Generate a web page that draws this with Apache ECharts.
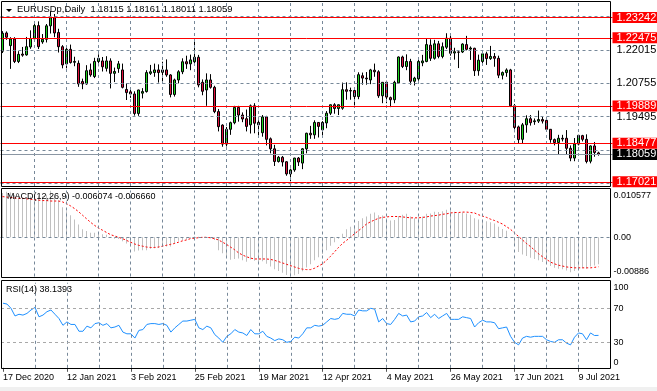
<!DOCTYPE html>
<html><head><meta charset="utf-8">
<script src="https://cdn.jsdelivr.net/npm/echarts@6/dist/echarts.min.js"></script>
<style>html,body{margin:0;padding:0;background:#fff}#c{width:657px;height:391px}</style>
</head><body><div id="c"></div><script>
// ---------- DATA ----------
const symbolTitle = 'EURUSDp,Daily  1.18115 1.18161 1.18011 1.18059';
const macdTitle = 'MACD(12,26,9) -0.006074 -0.006660';
const rsiTitle = 'RSI(14) 38.1393';
const MONTHS = ['Jan','Feb','Mar','Apr','May','Jun','Jul','Aug','Sep','Oct','Nov','Dec'];
const holidays = ['2020-12-25','2021-01-01'];
const categories = [];
(function(){ let d = new Date(Date.UTC(2020,11,17));
  while (categories.length < 150) { const wd = d.getUTCDay(); const iso = d.toISOString().slice(0,10);
    if (wd !== 0 && wd !== 6 && holidays.indexOf(iso) < 0) categories.push(d.getUTCDate()+' '+MONTHS[d.getUTCMonth()]+' '+d.getUTCFullYear());
    d.setUTCDate(d.getUTCDate()+1); } })();
const emptySlots = ['', '', ''];

const open = [1.2197,1.2266,1.2218,1.2243,1.2158,1.2186,1.2183,1.2213,1.2244,1.2294,1.2232,1.2242,1.2293,1.2324,1.2268,1.2214,1.2149,1.2204,1.2155,1.2151,
1.2082,1.2073,1.2126,1.2101,1.2158,1.2160,1.2132,1.2160,1.2113,1.2131,1.2126,1.2052,1.2043,1.2035,1.1961,1.2038,1.2044,1.2113,1.2116,1.2126,
1.2117,1.2126,1.2107,1.2033,1.2088,1.2119,1.2157,1.2149,1.2157,1.2174,1.2079,1.2050,1.2088,1.2060,1.1968,1.1917,1.1845,1.1901,1.1926,1.1984,
1.1955,1.1941,1.1918,1.1990,1.1927,1.1888,1.1948,1.1865,1.1827,1.1779,1.1795,1.1778,1.1732,1.1747,1.1792,1.1773,1.1827,1.1886,1.1880,1.1927,
1.1899,1.1925,1.1962,1.1994,1.1980,1.1981,1.2051,1.2046,1.2048,1.2025,1.2104,1.2095,1.2088,1.2125,1.2119,1.2028,1.2079,1.2021,1.2013,1.2077,
1.2175,1.2139,1.2158,1.2083,1.2092,1.2153,1.2158,1.2220,1.2170,1.2225,1.2177,1.2212,1.2246,1.2190,1.2194,1.2194,1.2222,1.2205,1.2208,1.2123,
1.2158,1.2187,1.2169,1.2177,1.2170,1.2106,1.2116,1.2126,1.1990,1.1910,1.1863,1.1918,1.1941,1.1930,1.1932,1.1938,1.1935,1.1901,1.1862,1.1851,
1.1867,1.1867,1.1829,1.1792,1.1845,1.1877,1.1863,1.1780,1.1838,1.18115];
const high = [1.2273,1.2272,1.2250,1.2250,1.2197,1.2213,1.2251,1.2276,1.2310,1.2310,1.2262,1.2300,1.2349,1.2338,1.2282,1.2220,1.2209,1.2222,1.2176,1.2162,
1.2093,1.2144,1.2150,1.2172,1.2185,1.2175,1.2178,1.2170,1.2135,1.2160,1.2150,1.2075,1.2060,1.2045,1.2051,1.2057,1.2125,1.2145,1.2150,1.2147,
1.2157,1.2166,1.2110,1.2093,1.2125,1.2170,1.2180,1.2184,1.2243,1.2183,1.2090,1.2113,1.2110,1.2066,1.1978,1.1920,1.1910,1.1930,1.1990,1.1990,
1.1965,1.1976,1.1995,1.2000,1.1935,1.1955,1.1952,1.1870,1.1842,1.1800,1.1800,1.1780,1.1752,1.1793,1.1796,1.1830,1.1888,1.1914,1.1935,1.1928,
1.1932,1.1970,1.1995,1.2000,1.1995,1.2078,1.2079,1.2059,1.2055,1.2117,1.2116,1.2118,1.2130,1.2150,1.2125,1.2080,1.2085,1.2025,1.2085,1.2177,
1.2180,1.2185,1.2168,1.2100,1.2165,1.2183,1.2243,1.2242,1.2240,1.2236,1.2230,1.2265,1.2265,1.2210,1.2197,1.2227,1.2255,1.2215,1.2210,1.2184,
1.2200,1.2195,1.2217,1.2190,1.2180,1.2120,1.2132,1.2130,1.1997,1.1915,1.1925,1.1954,1.1955,1.1942,1.1972,1.1950,1.1937,1.1902,1.1866,1.1880,
1.1880,1.1898,1.1840,1.1868,1.1880,1.1880,1.1882,1.1840,1.1853,1.18161];
const low = [1.2190,1.2240,1.2130,1.2152,1.2152,1.2176,1.2180,1.2206,1.2240,1.2205,1.2225,1.2230,1.2264,1.2250,1.2192,1.2132,1.2132,1.2150,1.2140,1.2062,
1.2053,1.2070,1.2100,1.2095,1.2140,1.2120,1.2120,1.2056,1.2080,1.2115,1.2056,1.2012,1.2020,1.1953,1.1952,1.2018,1.2040,1.2107,1.2100,1.2078,
1.2082,1.2100,1.2022,1.2025,1.2075,1.2110,1.2130,1.2125,1.2150,1.2060,1.2030,1.1990,1.2055,1.1962,1.1893,1.1835,1.1836,1.1880,1.1920,1.1930,
1.1928,1.1893,1.1885,1.1886,1.1875,1.1873,1.1840,1.1810,1.1762,1.1775,1.1760,1.1725,1.1704,1.1740,1.1762,1.1750,1.1810,1.1865,1.1865,1.1870,
1.1872,1.1905,1.1955,1.1960,1.1955,1.1975,1.2013,1.2013,1.1990,1.2015,1.2070,1.2070,1.2072,1.2100,1.2020,1.2000,1.2000,1.1985,1.2000,1.2075,
1.2133,1.2125,1.2070,1.2067,1.2085,1.2140,1.2155,1.2160,1.2165,1.2170,1.2170,1.2205,1.2180,1.2165,1.2133,1.2190,1.2200,1.2164,1.2103,1.2104,
1.2150,1.2145,1.2164,1.2138,1.2095,1.2090,1.2100,1.1985,1.1890,1.1848,1.1848,1.1888,1.1915,1.1918,1.1925,1.1923,1.1895,1.1850,1.1840,1.1805,
1.1855,1.1805,1.1780,1.1780,1.1840,1.1855,1.1772,1.1772,1.1797,1.18011];
const close = [1.2265,1.2250,1.2243,1.2158,1.2185,1.2182,1.2214,1.2245,1.2294,1.2214,1.2242,1.2293,1.2324,1.2266,1.2214,1.2145,1.2204,1.2154,1.2158,1.2073,
1.2073,1.2123,1.2107,1.2158,1.2170,1.2138,1.2160,1.2113,1.2120,1.2149,1.2060,1.2040,1.2035,1.1961,1.2050,1.2044,1.2116,1.2119,1.2126,1.2116,
1.2126,1.2107,1.2033,1.2088,1.2119,1.2157,1.2149,1.2164,1.2174,1.2069,1.2045,1.2088,1.2060,1.1968,1.1911,1.1845,1.1901,1.1926,1.1984,1.1955,
1.1940,1.1912,1.1990,1.1924,1.1918,1.1948,1.1863,1.1827,1.1779,1.1795,1.1777,1.1732,1.1747,1.1792,1.1777,1.1827,1.1886,1.1880,1.1927,1.1912,
1.1927,1.1962,1.1994,1.1980,1.1994,1.2051,1.2045,1.2048,1.2025,1.2108,1.2095,1.2092,1.2126,1.2119,1.2028,1.2079,1.2023,1.2013,1.2079,1.2175,
1.2139,1.2158,1.2083,1.2095,1.2158,1.2160,1.2222,1.2170,1.2225,1.2177,1.2214,1.2246,1.2189,1.2195,1.2193,1.2224,1.2204,1.2209,1.2123,1.2163,
1.2187,1.2169,1.2177,1.2170,1.2106,1.2116,1.2126,1.1990,1.1908,1.1862,1.1918,1.1941,1.1926,1.1933,1.1938,1.1932,1.1901,1.1862,1.1851,1.1867,
1.1864,1.1829,1.1792,1.1845,1.1878,1.1863,1.1779,1.1838,1.1813,1.18059];

const macdMain = [0.0100,0.0103,0.0101,0.0095,0.0092,0.0090,0.0090,0.0092,0.0098,0.0093,0.0092,0.0096,0.0105,0.0093,0.0083,0.0068,0.0059,0.0050,0.0040,0.0029,
0.0018,0.0014,0.0010,0.0010,0.0010,0.0007,0.0006,0.0000,-0.0003,-0.0004,
-0.0009,-0.0014,-0.0020,-0.0032,-0.0030,-0.0029,-0.0029,-0.0026,-0.0025,-0.0024,
-0.0022,-0.0021,-0.0021,-0.0014,-0.0008,-0.0006,-0.0005,-0.0002,0.0002,0.0001,
-0.0001,0.0000,-0.0002,-0.0006,-0.0029,-0.0036,-0.0042,-0.0051,-0.0049,-0.0048,
-0.0052,-0.0055,-0.0050,-0.0053,-0.0056,-0.0054,-0.0060,-0.0066,-0.0072,-0.0076,
-0.0080,-0.0085,-0.00886,-0.0086,-0.0083,-0.0077,-0.0068,-0.0061,-0.0052,-0.0045,
-0.0038,-0.0029,-0.0019,-0.0011,-0.0003,0.0008,0.0018,0.0024,0.0027,0.0037,
0.0043,0.0047,0.0053,0.0056,0.0050,0.0049,0.0043,0.0038,0.0039,0.0048,
0.0051,0.0053,0.0047,0.0043,0.0045,0.0047,0.0053,0.0054,0.0058,0.0057,
0.0059,0.0062,0.0060,0.0058,0.0055,0.0056,0.0054,0.0051,0.0043,0.0040,
0.0039,0.0036,0.0034,0.0031,0.0024,0.0019,0.0015,0.0000,-0.0018,-0.0033,
-0.0039,-0.0042,-0.0046,-0.0049,-0.0052,-0.0056,-0.0060,-0.0065,-0.0069,-0.0071,
-0.0072,-0.0075,-0.0079,-0.0076,-0.0072,-0.0070,-0.0071,-0.0066,-0.0064,-0.006074];
const macdSignal = [0.0092,0.0091,0.0090,0.0089,0.0088,0.0088,0.0087,0.0086,0.0085,0.0084,0.0083,0.0083,0.0082,0.0082,0.0082,0.0080,0.0076,0.0071,0.0065,0.0058,
0.0050,0.0042,0.0034,0.0027,0.0021,0.0016,0.0011,0.0006,0.0003,0.0000,
-0.0003,-0.0007,-0.0011,-0.0015,-0.0018,-0.0020,-0.0022,-0.0023,-0.0023,-0.0022,
-0.0020,-0.0018,-0.0016,-0.0014,-0.0011,-0.0008,-0.0006,-0.0003,-0.0002,-0.0001,
0.0000,0.0000,-0.0001,-0.0003,-0.0006,-0.0011,-0.0016,-0.0022,-0.0028,-0.0035,
-0.0040,-0.0044,-0.0047,-0.0049,-0.0049,-0.0049,-0.0049,-0.0050,-0.0052,-0.0055,
-0.0058,-0.0061,-0.0064,-0.0067,-0.0070,-0.0072,-0.0073,-0.0073,-0.0070,-0.0065,
-0.0060,-0.0052,-0.0043,-0.0033,-0.0023,-0.0014,-0.0007,0.0000,0.0008,0.0015,
0.0022,0.0030,0.0035,0.0039,0.0043,0.0045,0.0046,0.0047,0.0047,0.0047,
0.0046,0.0045,0.0044,0.0044,0.0044,0.0045,0.0046,0.0048,0.0049,0.0050,
0.0052,0.0053,0.0055,0.0056,0.0056,0.0057,0.0057,0.0056,0.0055,0.0051,
0.0048,0.0045,0.0041,0.0038,0.0034,0.0030,0.0024,0.0018,0.0010,0.0002,
-0.0006,-0.0014,-0.0021,-0.0029,-0.0037,-0.0044,-0.0050,-0.0056,-0.0060,-0.0063,
-0.0065,-0.0067,-0.0068,-0.0069,-0.0069,-0.0069,-0.0069,-0.0069,-0.0068,-0.006660];
const rsi = [76,75,70,61,63,62,64,68,71,60,62,66,68,63,58,50,54,51,51,43,
43,49,47,52,53,50,52,47,48,50,42,40,40,35,44,45,51,52,52,51,
52,50,42,47,51,55,55,56,57,47,45,49,47,39,35,30,37,40,45,42,
41,38,45,40,40,43,37,35,32,34,33,30,31,36,35,40,47,47,50,49,
50,54,58,57,58,64,63,63,61,68,67,67,70,69,54,58,52,51,57,64,
61,62,54,55,60,61,65,59,63,58,61,64,57,57,57,60,59,58,48,53,
56,54,54,53,46,47,48,37,30,27,35,37,36,37,37,37,33,31,30,33,
33,29,27,36,41,40,33,41,38,38.1393];

const priceGridTicks = [1.23275, 1.22015, 1.20755, 1.19495, 1.18235, 1.16975];
const priceTickLabels = ['1.22015', '1.20755', '1.19495'];
const levelLines = [1.23242, 1.22475, 1.19889, 1.18477, 1.17021];
const currentPrice = 1.18059;
const macdScale = { max: 0.010577, min: -0.00886 };
const macdTickLabels = ['0.010577', '0.00', '-0.00886'];
const rsiLevels = [70, 30];
const rsiTickLabels = ['100', '70', '30', '0'];
const vGridBars = [8,16,24,32,40,48,56,64,72,80,88,96,104,112,120,128,136,144];

// ---------- CHART ----------
const FONT = 'Liberation Sans';
const axisCats = categories.concat(emptySlots);
const chart = echarts.init(document.getElementById('c'), null, {renderer: 'canvas'});
const GRIDC = '#778899';
const CLEAR = 'rgba(0,0,0,0)';

function vLines() { return vGridBars.map(i => ({ xAxis: i })); }
function xAx(g, showLabels) {
  return { type: 'category', gridIndex: g, data: axisCats, boundaryGap: true,
    axisLine: { show: false },
    axisTick: { show: showLabels, interval: (idx) => idx % 16 === 0 && idx < 150, alignWithLabel: true, length: 4, lineStyle: { color: '#555' } },
    axisLabel: { show: showLabels, interval: (idx) => idx % 16 === 0 && idx < 150, align: 'left', margin: 5, fontSize: 9, fontFamily: FONT, color: '#000' },
    splitLine: { show: false } };
}
const plainLbl = (txt, fs, dist, va) => ({ show: true, position: 'end', distance: dist, formatter: txt, color: '#000', fontSize: fs, fontFamily: FONT, lineHeight: 10, verticalAlign: va || 'middle' });
const boxLbl = (txt, bg) => ({ show: true, position: 'end', distance: 0, formatter: txt, color: '#fff', backgroundColor: bg, fontSize: 11, fontFamily: FONT, lineHeight: 10, padding: [1, 6, 0, 4] });

const yMin = 1.168615, yMax = 1.238339;

const mainGridLines = priceGridTicks.map(v => {
  const s = v.toFixed(5);
  const show = priceTickLabels.indexOf(s) >= 0;
  return { yAxis: v, label: show ? plainLbl(s, 11, 4) : { show: false } };
});

const option = {
  animation: false,
  backgroundColor: '#ffffff',
  grid: [
    { left: 0.5, top: 2, width: 612, height: 184 },
    { left: 0.5, top: 190.5, width: 612, height: 86 },
    { left: 0.5, top: 282.8, width: 612, height: 85 }
  ],
  xAxis: [xAx(0, false), xAx(1, false), xAx(2, true)],
  yAxis: [
    { type: 'value', gridIndex: 0, min: yMin, max: yMax, show: false },
    { type: 'value', gridIndex: 1, min: macdScale.min, max: macdScale.max, show: false },
    { type: 'value', gridIndex: 2, min: 0, max: 100, show: false }
  ],
  series: [
    { type: 'line', xAxisIndex: 0, yAxisIndex: 0, data: [], z: 1, silent: true,
      markLine: { silent: true, precision: 8, symbol: ['none','none'], animation: false,
        lineStyle: { color: GRIDC, type: [3, 3], width: 1 },
        label: { show: false },
        data: vLines().concat(mainGridLines) } },
    { type: 'candlestick', name: 'EURUSDp', xAxisIndex: 0, yAxisIndex: 0, z: 3, barWidth: 2,
      data: open.map((o, i) => [o, close[i], low[i], high[i]]),
      itemStyle: { color: '#1ed21e', color0: '#e0103c', borderColor: '#000', borderColor0: '#000', borderWidth: 1 } },
    { type: 'line', xAxisIndex: 0, yAxisIndex: 0, data: [], z: 5, silent: true,
      markLine: { silent: true, precision: 8, symbol: ['none','none'], animation: false,
        data: levelLines.map(v => ({ yAxis: v, lineStyle: { color: '#ff0000', type: 'solid', width: 1 }, label: boxLbl(v.toFixed(5), '#ff0000') }))
          .concat([{ yAxis: currentPrice, lineStyle: { color: '#8a96a3', type: 'solid', width: 1 }, label: boxLbl(currentPrice.toFixed(5), '#000') }]) } },
    { type: 'line', xAxisIndex: 1, yAxisIndex: 1, data: [], z: 1, silent: true,
      markLine: { silent: true, precision: 8, symbol: ['none','none'], animation: false,
        lineStyle: { color: GRIDC, type: [3, 3], width: 1 },
        label: { show: false },
        data: vLines().concat([
          { yAxis: 0, label: plainLbl(macdTickLabels[1], 9, 1) },
          { yAxis: macdScale.max, lineStyle: { color: CLEAR }, label: plainLbl(macdTickLabels[0], 9, 1, 'top') },
          { yAxis: macdScale.min, lineStyle: { color: CLEAR }, label: plainLbl(macdTickLabels[2], 9, 1, 'bottom') }
        ]) } },
    { type: 'bar', name: 'MACD', xAxisIndex: 1, yAxisIndex: 1, data: macdMain, barWidth: 1, z: 2,
      itemStyle: { color: '#c0c0c0' } },
    { type: 'line', name: 'Signal', xAxisIndex: 1, yAxisIndex: 1, data: macdSignal, z: 3, symbol: 'none',
      lineStyle: { color: '#ff0000', width: 1, type: [2, 2] } },
    { type: 'line', xAxisIndex: 2, yAxisIndex: 2, data: [], z: 1, silent: true,
      markLine: { silent: true, precision: 8, symbol: ['none','none'], animation: false,
        lineStyle: { color: GRIDC, type: [3, 3], width: 1 },
        label: { show: false },
        data: vLines().concat(
          rsiLevels.map(v => ({ yAxis: v, lineStyle: { color: '#a8a8a8' }, label: plainLbl(String(v), 9, 1) })),
          [{ yAxis: 100, lineStyle: { color: CLEAR }, label: plainLbl(rsiTickLabels[0], 9, 1, 'top') },
           { yAxis: 0, lineStyle: { color: CLEAR }, label: plainLbl(rsiTickLabels[3], 9, 1, 'bottom') }]) } },
    { type: 'line', name: 'RSI', xAxisIndex: 2, yAxisIndex: 2, data: rsi, z: 3, symbol: 'none',
      lineStyle: { color: '#1e90ff', width: 1 } }
  ],
  graphic: [
    { type: 'rect', shape: { x: 0, y: 387, width: 657, height: 4 }, style: { fill: '#f0f0f0' }, z: 0, silent: true },
    { type: 'rect', shape: { x: 1.5, y: 1.5, width: 609, height: 185 }, style: { fill: 'none', stroke: '#000', lineWidth: 1 }, z: 10, silent: true },
    { type: 'rect', shape: { x: 1.5, y: 188.5, width: 609, height: 89 }, style: { fill: 'none', stroke: '#000', lineWidth: 1 }, z: 10, silent: true },
    { type: 'rect', shape: { x: 1.5, y: 280.5, width: 609, height: 88 }, style: { fill: 'none', stroke: '#000', lineWidth: 1 }, z: 10, silent: true },
    { type: 'polygon', shape: { points: [[6, 9], [12, 9], [9, 12]] }, style: { fill: '#000' }, z: 11, silent: true },
    { type: 'text', left: 17, top: 5, style: { text: symbolTitle, fontSize: 9.4, fontFamily: FONT, fill: '#000' }, z: 11, silent: true },
    { type: 'text', left: 7, top: 192, style: { text: macdTitle, fontSize: 9, fontFamily: FONT, fill: '#000' }, z: 11, silent: true },
    { type: 'text', left: 6, top: 285, style: { text: rsiTitle, fontSize: 9, fontFamily: FONT, fill: '#000' }, z: 11, silent: true }
  ]
};
chart.setOption(option);
</script></body></html>
